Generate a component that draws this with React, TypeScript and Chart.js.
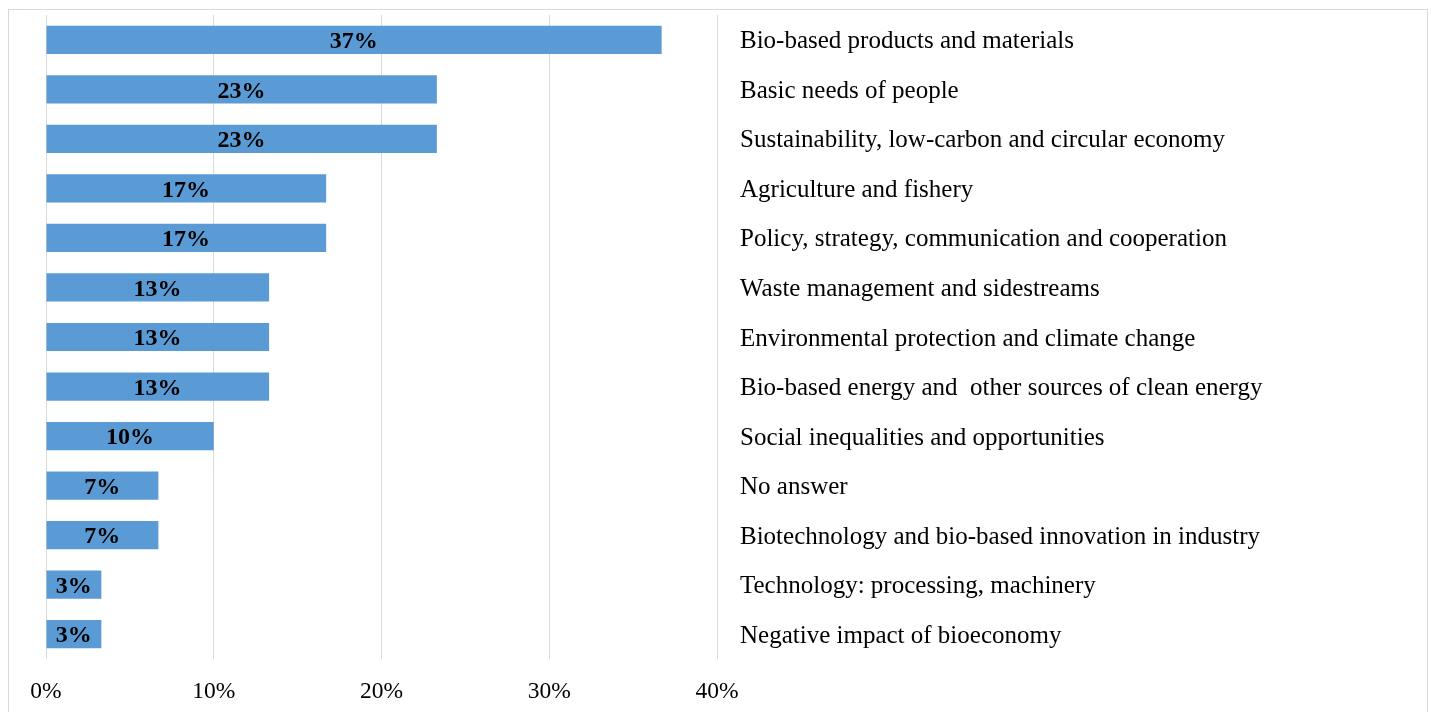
import React, { useEffect, useRef } from "react";
import { Chart, registerables } from "chart.js";

Chart.register(...registerables);

const categories: string[] = [
  "Bio-based products and materials",
  "Basic needs of people",
  "Sustainability, low-carbon and circular economy",
  "Agriculture and fishery",
  "Policy, strategy, communication and cooperation",
  "Waste management and sidestreams",
  "Environmental protection and climate change",
  "Bio-based energy and  other sources of clean energy",
  "Social inequalities and opportunities",
  "No answer",
  "Biotechnology and bio-based innovation in industry",
  "Technology: processing, machinery",
  "Negative impact of bioeconomy",
];

const shares: number[] = [36.7, 23.3, 23.3, 16.7, 16.7, 13.3, 13.3, 13.3, 10.0, 6.7, 6.7, 3.3, 3.3];

const xTicks: number[] = [0, 10, 20, 30, 40];

const FONT = "'Liberation Serif', 'Times New Roman', serif";

const valueLabels = {
  id: "valueLabels",
  afterDatasetsDraw(chart: any) {
    const { ctx } = chart;
    const meta = chart.getDatasetMeta(0);
    ctx.save();
    ctx.font = `bold 24px ${FONT}`;
    ctx.fillStyle = "#000000";
    ctx.textAlign = "center";
    ctx.textBaseline = "middle";
    meta.data.forEach((bar: any, i: number) => {
      const v = chart.data.datasets[0].data[i] as number;
      const xs = chart.scales.x.getPixelForValue(0);
      const cx = (xs + bar.x) / 2;
      ctx.fillText(`${Math.round(v)}%`, cx, bar.y + 2);
    });
    ctx.restore();
  },
};

export default function App() {
  const ref = useRef<HTMLCanvasElement>(null);

  useEffect(() => {
    if (!ref.current) return;
    const chart = new Chart(ref.current, {
      type: "bar",
      data: {
        labels: categories,
        datasets: [
          {
            data: shares,
            backgroundColor: "#5b9bd5",
            borderWidth: 0,
            barPercentage: 0.57,
            categoryPercentage: 1,
          },
        ],
      },
      options: {
        indexAxis: "y",
        animation: false,
        responsive: false,
        maintainAspectRatio: false,
        layout: { padding: { left: 46, top: 15, right: 0, bottom: 0 } },
        plugins: {
          legend: { display: false },
          tooltip: { enabled: false },
        },
        scales: {
          x: {
            type: "linear",
            min: 0,
            max: 40,
            afterBuildTicks: (axis: any) => {
              axis.ticks = xTicks.map((v) => ({ value: v }));
            },
            afterFit: (axis: any) => {
              axis.height = 53;
            },
            grid: {
              color: "#d9d9d9",
              lineWidth: 1,
              drawTicks: false,
            },
            border: { display: false },
            ticks: {
              padding: 19,
              color: "#000000",
              font: { family: FONT, size: 23.5 },
              callback: (v: any) => `${v}%`,
            },
          },
          y: {
            position: "right",
            afterFit: (axis: any) => {
              axis.width = 1431 - 717;
            },
            grid: { display: false, drawTicks: true, tickLength: 23 },
            border: { display: false },
            ticks: {
              padding: 0,
              labelOffset: 2,
              color: "#000000",
              font: { family: FONT, size: 25 },
              autoSkip: false,
            },
          },
        },
      },
      plugins: [valueLabels],
    });
    return () => chart.destroy();
  }, []);

  return (
    <div style={{ position: "fixed", left: 0, top: 0, width: 1431, height: 712, background: "#fff", overflow: "hidden" }}>
      <div
        style={{
          position: "absolute",
          left: 8,
          top: 9,
          width: 1420,
          height: 760,
          border: "1px solid #d9d9d9",
          boxSizing: "border-box",
        }}
      />
      <canvas ref={ref} width={1431} height={712} style={{ position: "absolute", left: 0, top: 0, width: 1431, height: 712 }} />
    </div>
  );
}
